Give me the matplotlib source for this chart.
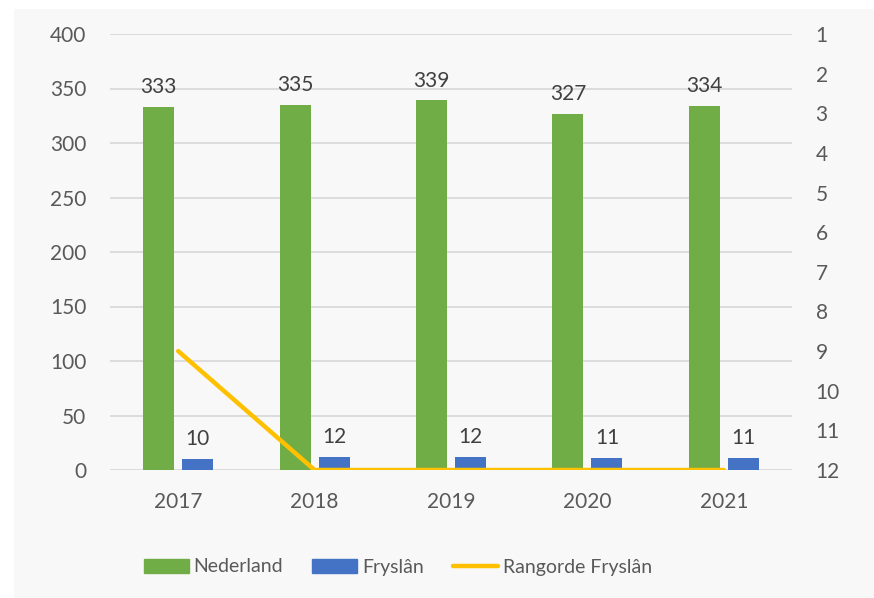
import matplotlib.pyplot as plt
from matplotlib.patches import Rectangle
from matplotlib.lines import Line2D
import numpy as np

years = ['2017', '2018', '2019', '2020', '2021']
nederland = [333, 335, 339, 327, 334]
fryslan = [10, 12, 12, 11, 11]
rangorde = [9, 12, 12, 12, 12]

green = '#70ad47'
blue = '#4472c4'
yellow = '#ffc000'
txt = '#595959'
grid = '#d9d9d9'

plt.rcParams['font.family'] = ['Lato', 'DejaVu Sans']
fs = 15

fig = plt.figure(figsize=(8.74, 5.98), dpi=100, facecolor='white')
# light grey chart area, with a white strip on the top and left
fig.patches.append(Rectangle((14 / 874, 0), 1, 1 - 9 / 598, transform=fig.transFigure,
                             facecolor='#f8f8f8', edgecolor='none', zorder=-10))

ax = fig.add_axes([110 / 874, 1 - 470 / 598, (792 - 110) / 874, (470 - 34) / 598])
ax.set_facecolor('none')

x = np.arange(len(years))
w = 0.227
off = 0.143
b1 = ax.bar(x - off, nederland, w, color=green, zorder=3)
b2 = ax.bar(x + off, fryslan, w, color=blue, zorder=3)
ax.bar_label(b1, padding=7, color='#404040', fontsize=fs)
ax.bar_label(b2, padding=7, color='#404040', fontsize=fs)

ax.set_xlim(-0.5, len(years) - 0.5)
ax.set_ylim(0, 400)
ax.set_yticks(range(0, 401, 50))
ax.set_xticks(x)
ax.set_xticklabels(years)
ax.yaxis.grid(True, color=grid, linewidth=1.3, zorder=0)
for s in ax.spines.values():
    s.set_visible(False)
ax.tick_params(length=0, colors=txt, labelsize=fs)
ax.tick_params(axis='x', pad=16)
ax.tick_params(axis='y', pad=17)

ax2 = ax.twinx()
ax2.plot(x, rangorde, color=yellow, linewidth=3.2, solid_capstyle='round', zorder=4)
ax2.set_ylim(12, 1)
ax2.set_yticks(range(1, 13))
for s in ax2.spines.values():
    s.set_visible(False)
ax2.tick_params(length=0, colors=txt, labelsize=fs, pad=17)

handles = [Rectangle((0, 0), 1, 1, color=green),
           Rectangle((0, 0), 1, 1, color=blue),
           Line2D([0], [0], color=yellow, linewidth=3.2, solid_capstyle='round')]
fig.legend(handles, ['Nederland', 'Fryslân', 'Rangorde Fryslân'], loc='center',
           bbox_to_anchor=(398 / 874, 1 - 567 / 598), ncol=3, frameon=False,
           fontsize=14, labelcolor=txt, handlelength=2.3, handleheight=0.75,
           handletextpad=0.26, columnspacing=1.5)

fig.savefig('out.png', dpi=100, facecolor=fig.get_facecolor())
